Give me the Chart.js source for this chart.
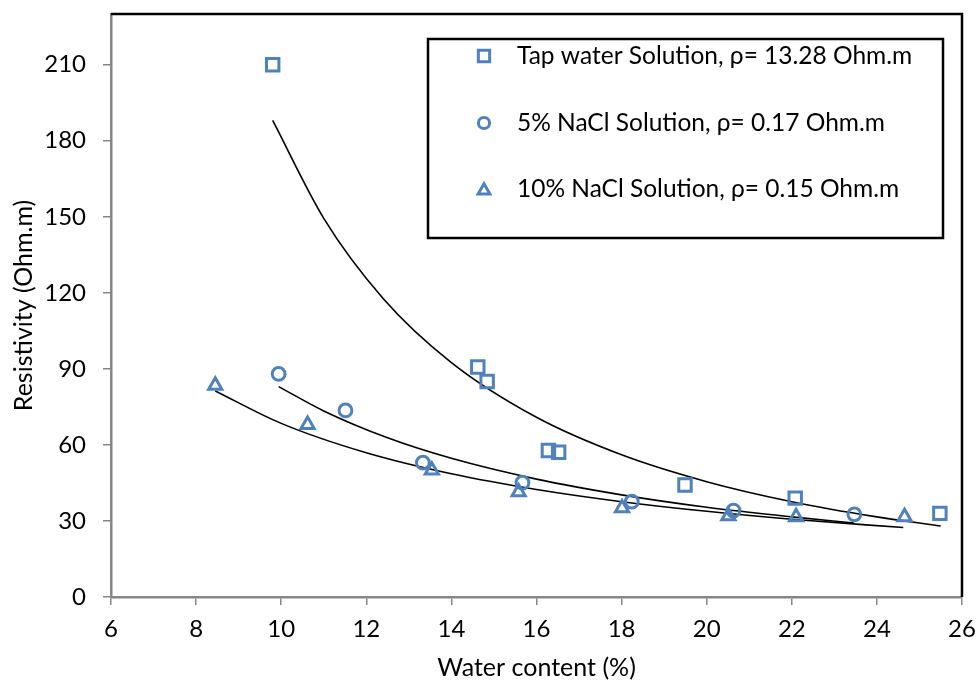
<!DOCTYPE html>
<html>
<head>
<meta charset="utf-8">
<script src="https://cdn.jsdelivr.net/npm/chart.js@4/dist/chart.umd.min.js"></script>
<style>
  html, body { margin: 0; padding: 0; background: #ffffff; }
  #wrap { width: 978px; height: 686px; position: relative; }
</style>
</head>
<body>
<div id="wrap"><canvas id="c" width="978" height="686"></canvas></div>
<script>
// ---- Data ----
const xTickValues = [6, 8, 10, 12, 14, 16, 18, 20, 22, 24, 26];
const yTickValues = [0, 30, 60, 90, 120, 150, 180, 210];

const seriesNames = [
  "Tap water Solution, ρ= 13.28 Ohm.m",
  "5% NaCl Solution, ρ= 0.17 Ohm.m",
  "10% NaCl Solution, ρ= 0.15 Ohm.m"
];

const tapWater = [9.80, 14.62, 14.84, 16.28, 16.52, 19.49, 22.08, 25.48];
const tapRes   = [210, 90.7, 85.0, 57.8, 57.1, 44.2, 39.0, 33.0];

const nacl5Water = [9.94, 11.51, 13.33, 15.67, 18.24, 20.63, 23.47];
const nacl5Res   = [88.0, 73.6, 53.0, 45.1, 37.6, 34.1, 32.6];

const nacl10Water = [8.45, 10.62, 13.54, 15.58, 18.01, 20.51, 22.10, 24.65];
const nacl10Res   = [83.5, 68.0, 50.0, 41.4, 35.1, 32.0, 31.6, 31.6];

// trend curves at several points
const tapTrendX = [9.8, 11, 12.4, 14, 16, 18, 20, 22, 24, 25.5];
const tapTrendY = [188, 149.4, 117.7, 92.5, 70.9, 56.1, 45.5, 37.6, 31.6, 28.0];
const nacl5TrendX = [9.94, 11, 12.5, 14, 16, 18, 20, 22, 23.46];
const nacl5TrendY = [83, 73.4, 62.8, 54.7, 46.5, 40.3, 35.4, 31.6, 29.2];
const nacl10TrendX = [8.45, 10, 12, 14, 16, 18, 20, 22, 24.62];
const nacl10TrendY = [81.3, 68.5, 56.9, 48.6, 42.4, 37.6, 33.8, 30.7, 27.4];

// ---- Build ----
const BLUE = '#4F81BD';
const FONT = 'Lato, "Open Sans", sans-serif';
const FS = 25;
const LFS = 24.5;
const TFS = 24;
const zip = (xs, ys) => xs.map((x, i) => ({ x: x, y: ys[i] }));
const pointStyles = ['rect', 'circle', 'triangle'];
const pointRadii = [8.8, 6.4, 7.6];

function markerSet(label, xs, ys, idx) {
  return {
    label: label,
    data: zip(xs, ys),
    showLine: false,
    pointStyle: pointStyles[idx],
    pointRadius: pointRadii[idx],
    pointBorderWidth: 3,
    pointBorderColor: BLUE,
    pointBackgroundColor: 'rgba(0,0,0,0)',
    borderColor: BLUE,
    backgroundColor: 'rgba(0,0,0,0)',
    order: 0
  };
}
function trendSet(xs, ys) {
  return {
    label: 'trend',
    data: zip(xs, ys),
    showLine: true,
    pointRadius: 0,
    borderColor: '#000000',
    borderWidth: 1.6,
    cubicInterpolationMode: 'monotone',
    fill: false,
    order: 1
  };
}

function zeroPad(scale) {
  scale.paddingTop = 0; scale.paddingBottom = 0;
  scale.paddingLeft = 0; scale.paddingRight = 0;
}

const frameAndLegend = {
  id: 'frameAndLegend',
  afterDraw(chart) {
    const ctx = chart.ctx;
    const a = chart.chartArea;
    ctx.save();
    // top and right border of plot area
    ctx.strokeStyle = '#000000';
    ctx.lineWidth = 2.5;
    ctx.beginPath();
    ctx.moveTo(a.left, a.top);
    ctx.lineTo(a.right, a.top);
    ctx.lineTo(a.right, a.bottom);
    ctx.stroke();

    // legend box
    const bx = a.left + 317, by = a.top + 25, bw = 515, bh = 199;
    ctx.fillStyle = '#ffffff';
    ctx.fillRect(bx, by, bw, bh);
    ctx.lineWidth = 2.5;
    ctx.strokeStyle = '#000000';
    ctx.strokeRect(bx, by, bw, bh);

    const rowY = [by + 17, by + 84, by + 150];
    for (let i = 0; i < seriesNames.length; i++) {
      ctx.fillStyle = 'rgba(0,0,0,0)';
      ctx.strokeStyle = BLUE;
      ctx.lineWidth = 3;
      Chart.helpers.drawPoint(ctx, {
        pointStyle: pointStyles[i],
        radius: pointRadii[i] - 0.8,
        rotation: 0,
        borderWidth: 3
      }, bx + 56, rowY[i] + (i === 2 ? 1.5 : 0));
      ctx.fillStyle = '#000000';
      ctx.font = LFS + 'px ' + FONT;
      ctx.textAlign = 'left';
      ctx.textBaseline = 'middle';
      ctx.fillText(seriesNames[i], bx + 89, rowY[i]);
    }
    ctx.restore();
  }
};

Chart.defaults.font.family = FONT;
Chart.defaults.color = '#000000';

new Chart(document.getElementById('c'), {
  type: 'scatter',
  data: {
    datasets: [
      markerSet(seriesNames[0], tapWater, tapRes, 0),
      markerSet(seriesNames[1], nacl5Water, nacl5Res, 1),
      markerSet(seriesNames[2], nacl10Water, nacl10Res, 2),
      trendSet(tapTrendX, tapTrendY),
      trendSet(nacl5TrendX, nacl5TrendY),
      trendSet(nacl10TrendX, nacl10TrendY)
    ]
  },
  options: {
    responsive: false,
    animation: false,
    devicePixelRatio: 1,
    layout: { padding: { left: 0, top: 14, right: 16, bottom: 0 } },
    plugins: {
      legend: { display: false },
      tooltip: { enabled: false },
      title: { display: false }
    },
    scales: {
      x: {
        type: 'linear',
        min: 6, max: 26,
        afterBuildTicks(scale) { scale.ticks = xTickValues.map(v => ({ value: v })); },
        afterFit(scale) { scale.height = 89; zeroPad(scale); },
        grid: { drawOnChartArea: false, drawTicks: true, tickLength: 8, color: '#868686', lineWidth: 1.5 },
        border: { display: true, color: '#868686', width: 2.5 },
        ticks: { font: { size: TFS, family: FONT }, color: '#000000', padding: 10, maxRotation: 0 },
        title: { display: true, text: 'Water content (%)', font: { size: FS, family: FONT }, color: '#000000', padding: { top: 0, bottom: 3 } }
      },
      y: {
        type: 'linear',
        min: 0, max: 230,
        afterBuildTicks(scale) { scale.ticks = yTickValues.map(v => ({ value: v })); },
        afterFit(scale) { scale.width = 111; zeroPad(scale); },
        grid: { drawOnChartArea: false, drawTicks: true, tickLength: 8, color: '#868686', lineWidth: 1.5 },
        border: { display: true, color: '#868686', width: 2.5 },
        ticks: { font: { size: TFS, family: FONT }, color: '#000000', padding: 17 },
        title: { display: true, text: 'Resistivity (Ohm.m)', font: { size: FS, family: FONT }, color: '#000000', padding: { top: 9, bottom: 0 } }
      }
    }
  },
  plugins: [frameAndLegend]
});
</script>
</body>
</html>
